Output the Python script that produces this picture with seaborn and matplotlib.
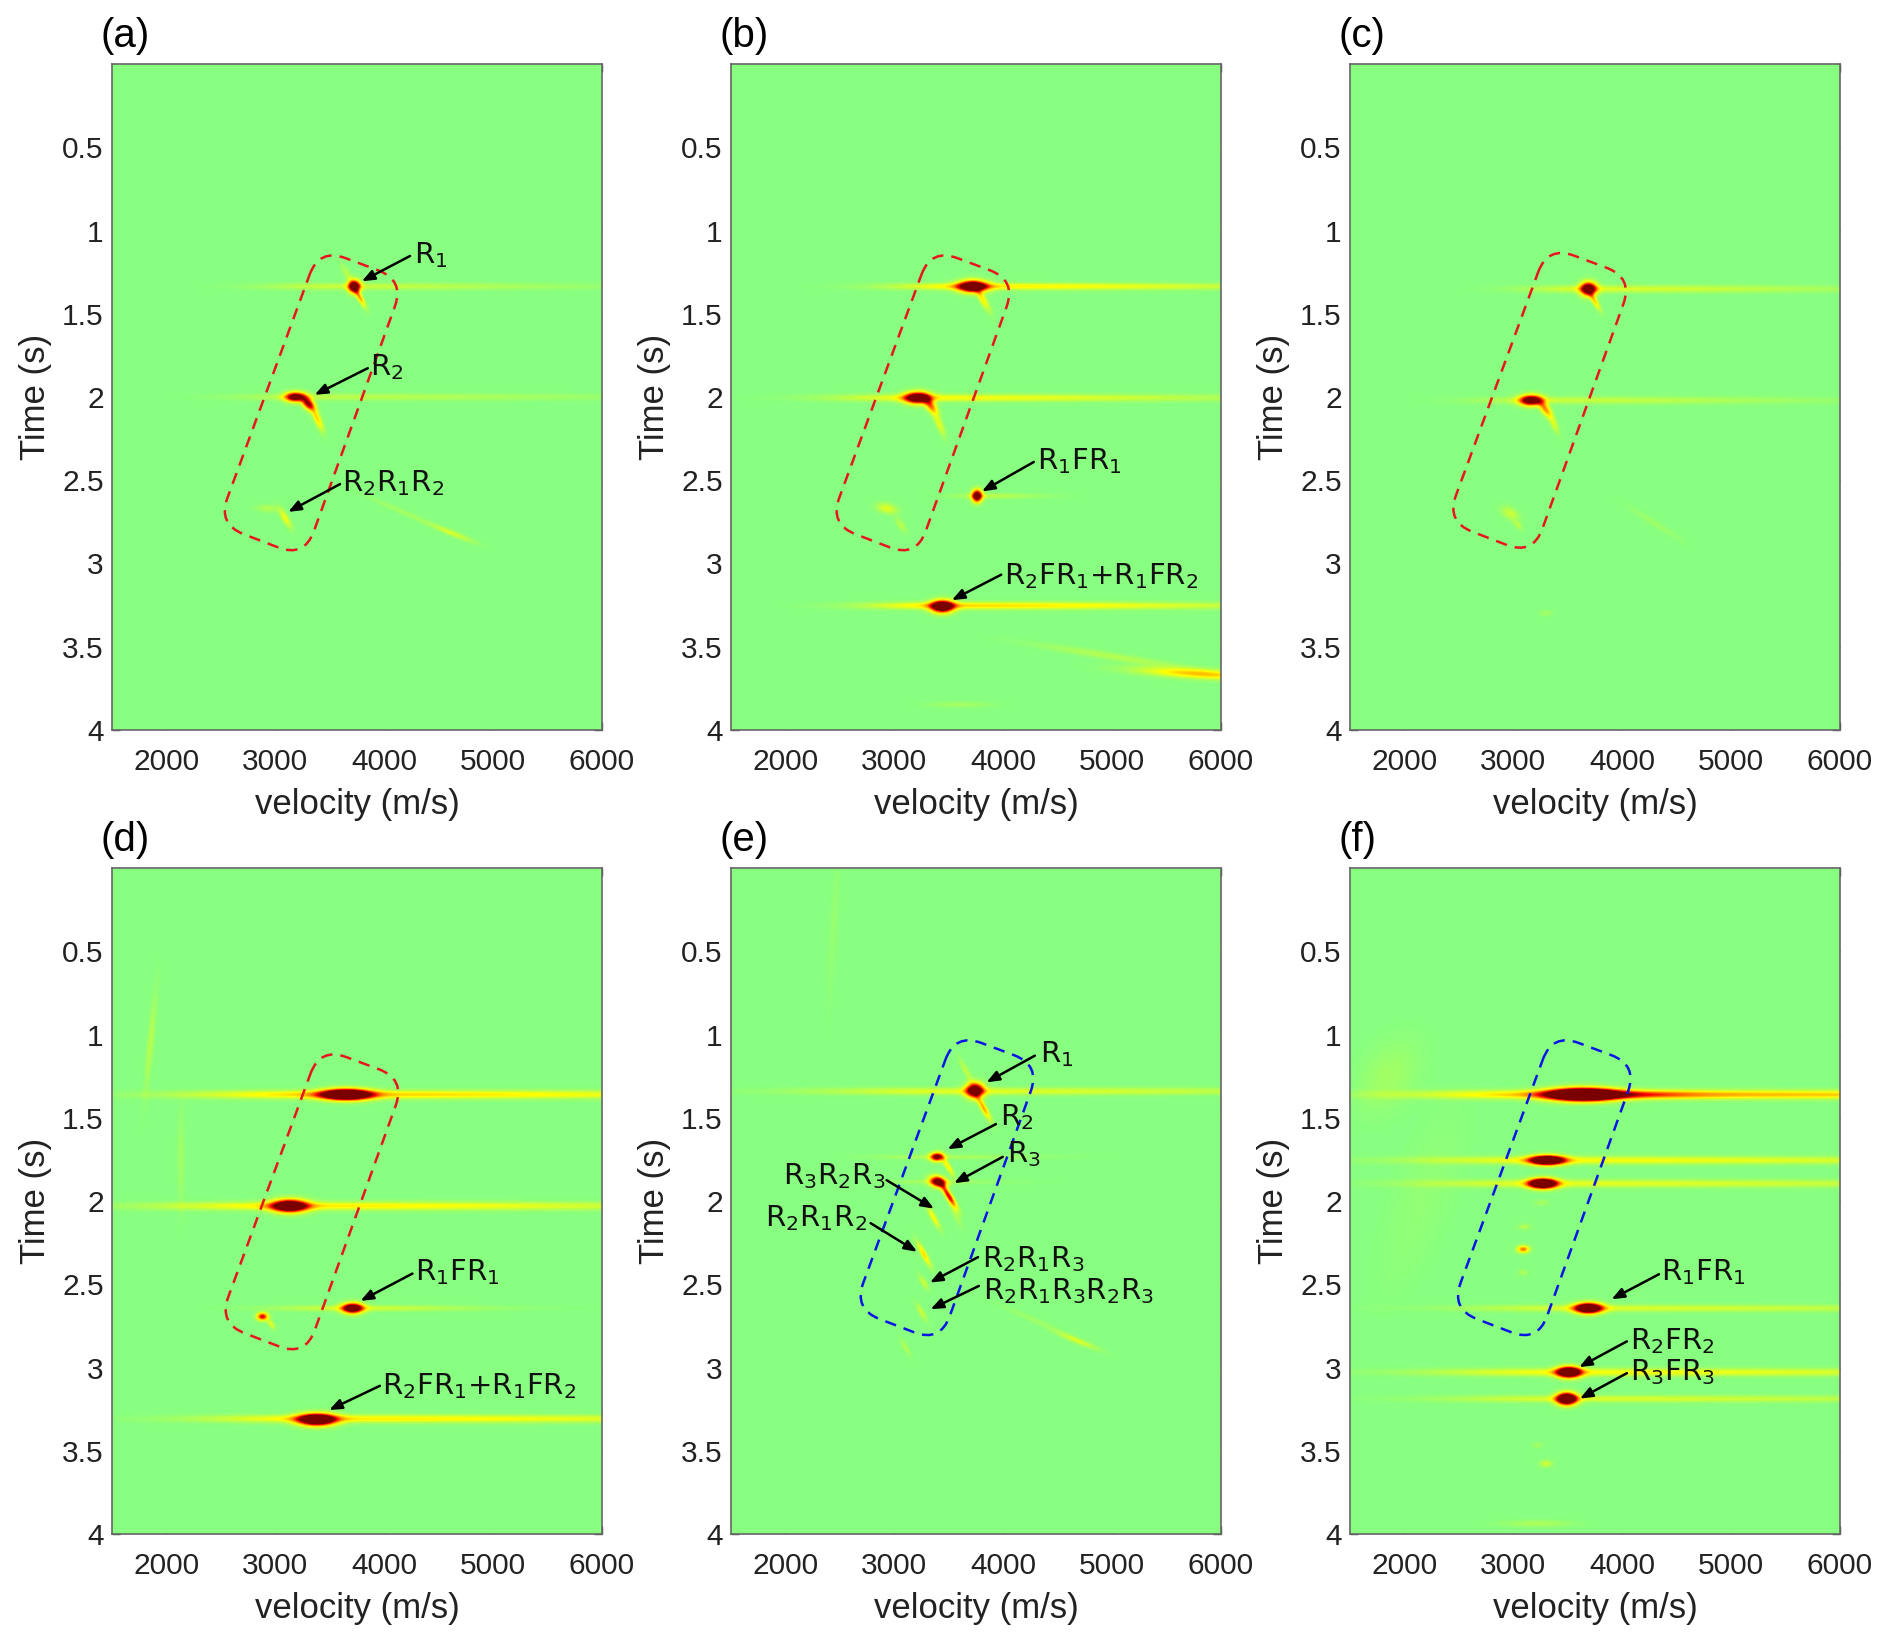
import numpy as np
import matplotlib
matplotlib.use('Agg')
import matplotlib.pyplot as plt
from matplotlib.colors import LinearSegmentedColormap
from matplotlib.path import Path
from matplotlib.patches import PathPatch
import seaborn as sns

sns.set_style('white')
plt.rcParams['font.family'] = ['Liberation Sans', 'DejaVu Sans']
plt.rcParams['mathtext.fontset'] = 'dejavusans'

# ----------------------------
# values
# ----------------------------
panel_names = ['(a)', '(b)', '(c)', '(d)', '(e)', '(f)']
v_ticks = [2000, 3000, 4000, 5000, 6000]
t_ticks = [0.5, 1, 1.5, 2, 2.5, 3, 3.5, 4]
t_tick_labels = ['0.5', '1', '1.5', '2', '2.5', '3', '3.5', '4']

# semblance peaks: v, t, width in v, width in t, slant (m/s per s), amplitude
peaks_a = [(3725, 1.335, 38, .026, 0, 1.3), (3775, 1.40, 20, .04, 800, .5), (3660, 1.26, 22, .04, 800, .14),
           (3180, 2.0, 62, .02, 0, 1.15), (3300, 2.04, 36, .028, 700, .95), (3385, 2.13, 24, .05, 600, .4),
           (3090, 2.73, 24, .04, 800, .28), (2930, 2.67, 70, .015, 900, .12),
           (4630, 2.82, 45, .035, 3400, .2), (4200, 2.70, 40, .07, 3400, .08)]
peaks_b = [(3720, 1.335, 90, .024, 0, 1.45), (3810, 1.41, 25, .05, 800, .35),
           (3210, 2.005, 80, .024, 0, 1.3), (3330, 2.05, 35, .035, 800, .6), (3410, 2.16, 24, .05, 600, .25),
           (3760, 2.595, 32, .025, 0, 1.3), (2930, 2.67, 60, .022, 900, .24), (3060, 2.77, 24, .03, 800, .14),
           (3440, 3.26, 70, .025, 0, 1.5), (5800, 3.665, 300, .025, 9000, .45), (5000, 3.56, 150, .05, 9000, .12),
           (3600, 3.85, 200, .012, 0, .08)]
peaks_c = [(3690, 1.35, 50, .028, 0, 1.3), (3745, 1.42, 20, .04, 800, .4),
           (3160, 2.02, 70, .022, 0, 1.25), (3290, 2.07, 32, .035, 800, .55), (3370, 2.16, 22, .04, 600, .22),
           (2970, 2.70, 50, .028, 900, .18), (3040, 2.77, 22, .02, 800, .14), (4300, 2.76, 40, .07, 2300, .06),
           (3300, 3.30, 40, .012, 0, .08)]
peaks_d = [(3650, 1.36, 150, .022, 0, 1.9), (3130, 2.03, 110, .026, 0, 1.5), (3710, 2.645, 65, .021, 0, 1.4),
           (2880, 2.695, 35, .016, 0, .85), (2960, 2.74, 20, .02, 800, .24), (3380, 3.315, 115, .024, 0, 1.7),
           (1850, 1.05, 20, .2, -150, .13), (2130, 1.75, 22, .2, 0, .07)]
peaks_e = [(3740, 1.335, 55, .03, 0, 1.35), (3820, 1.44, 22, .05, 800, .5), (3660, 1.22, 20, .05, 800, .16),
           (3390, 1.735, 42, .018, 0, 1.05), (3490, 1.79, 20, .04, 900, .35),
           (3400, 1.885, 50, .022, 500, 1.2), (3500, 1.97, 22, .05, 900, .85), (3560, 2.08, 18, .05, 700, .12),
           (3360, 2.10, 20, .045, 800, .32), (3270, 2.32, 20, .05, 800, .4),
           (3270, 2.49, 20, .03, 800, .18), (3250, 2.67, 20, .035, 800, .18), (3100, 2.88, 18, .035, 800, .12),
           (4680, 2.84, 45, .035, 3400, .22), (4300, 2.72, 40, .06, 3400, .07), (2440, 0.35, 25, .3, -100, .04)]
peaks_f = [(3640, 1.36, 210, .025, 0, 2.2), (3310, 1.755, 105, .019, 0, 1.8), (3270, 1.895, 85, .02, 0, 1.9),
           (3090, 2.29, 38, .015, 0, .6), (3100, 2.155, 40, .012, 0, .12), (3260, 2.01, 40, .012, 0, .09),
           (3090, 2.43, 30, .012, 0, .1), (3690, 2.645, 85, .021, 0, 1.7), (3510, 3.03, 75, .022, 0, 1.7),
           (3490, 3.19, 62, .024, 0, 1.8), (3300, 3.58, 38, .014, 0, .2), (3220, 3.47, 30, .012, 0, .08),
           (3220, 3.94, 220, .014, 0, .1), (1850, 1.25, 170, .14, -500, .07), (2150, 2.0, 170, .35, -500, .03)]

# horizontal streaks: t, v centre, spread left, spread right, width in t, amplitude
streaks_a = [(1.335, 3500, 450, 1500, .014, .17), (2.0, 3300, 480, 1900, .014, .14)]
streaks_b = [(1.335, 3700, 520, 1900, .014, .36), (2.005, 3300, 600, 1900, .015, .3),
             (2.595, 3850, 220, 350, .011, .14), (3.255, 3500, 520, 1900, .015, .4)]
streaks_c = [(1.35, 3700, 420, 1600, .015, .22), (2.02, 3300, 450, 1600, .015, .17)]
streaks_d = [(1.36, 3500, 900, 2700, .017, .42), (2.03, 3200, 900, 2500, .017, .36),
             (2.645, 3700, 500, 800, .012, .2), (3.31, 3500, 800, 2700, .016, .36)]
streaks_e = [(1.34, 3500, 900, 2500, .015, .24), (1.735, 3300, 350, 700, .01, .1), (1.885, 3300, 250, 500, .01, .08)]
streaks_f = [(1.36, 3600, 1000, 4200, .018, .5), (1.36, 4000, 300, 450, .018, .3),
             (1.755, 3400, 900, 3000, .016, .3), (1.895, 3300, 800, 3000, .016, .25),
             (2.645, 3700, 800, 2600, .014, .22), (3.03, 3500, 900, 3000, .016, .3),
             (3.19, 3500, 800, 2600, .014, .22)]

# rounded dashed boxes: corners in (v, t)
box_a = [(3404, 1.107), (4185, 1.298), (3267, 2.964), (2471, 2.764)]
box_b = [(3338, 1.107), (4119, 1.298), (3201, 2.964), (2405, 2.764)]
box_c = [(3317, 1.092), (4098, 1.283), (3180, 2.949), (2384, 2.749)]
box_d = [(3412, 1.077), (4193, 1.268), (3275, 2.934), (2479, 2.734)]
box_e = [(3559, 0.992), (4340, 1.183), (3422, 2.849), (2626, 2.649)]
box_f = [(3360, 0.992), (4141, 1.183), (3223, 2.849), (2427, 2.649)]
box_colors = ['#e8141e', '#e8141e', '#e8141e', '#e8141e', '#0a14e6', '#0a14e6']

# labels: text, text v, text t, arrow tail v, tail t, arrow head v, head t
labels_a = [('R$_1$', 4270, 1.146, 4237, 1.153, 3794, 1.305),
            ('R$_2$', 3871, 1.82, 3849, 1.827, 3361, 1.987),
            ('R$_2$R$_1$R$_2$', 3616, 2.516, 3594, 2.523, 3118, 2.69)]
labels_b = [('R$_1$FR$_1$', 4314, 2.385, 4281, 2.39, 3805, 2.567),
            ('R$_2$FR$_1$+R$_1$FR$_2$', 4004, 3.074, 3982, 3.067, 3528, 3.22)]
labels_c = []
labels_d = [('R$_1$FR$_1$', 4281, 2.43, 4259, 2.436, 3782, 2.60),
            ('R$_2$FR$_1$+R$_1$FR$_2$', 3982, 3.11, 3960, 3.11, 3494, 3.255)]
labels_e = [('R$_1$', 4337, 1.116, 4291, 1.127, 3847, 1.287),
            ('R$_2$', 3969, 1.498, 3933, 1.538, 3489, 1.689),
            ('R$_3$', 4033, 1.72, 3995, 1.735, 3549, 1.893),
            ('R$_3$R$_2$R$_3$', 1975, 1.85, 2929, 1.875, 3364, 2.046),
            ('R$_2$R$_1$R$_2$', 1815, 2.10, 2782, 2.133, 3209, 2.305),
            ('R$_2$R$_1$R$_3$', 3801, 2.35, 3769, 2.337, 3327, 2.49),
            ('R$_2$R$_1$R$_3$R$_2$R$_3$', 3810, 2.54, 3777, 2.51, 3333, 2.65)]
labels_f = [('R$_1$FR$_1$', 4356, 2.43, 4337, 2.44, 3902, 2.59),
            ('R$_2$FR$_2$', 4070, 2.843, 4043, 2.843, 3604, 2.998),
            ('R$_3$FR$_3$', 4070, 3.03, 4043, 3.034, 3611, 3.187)]

all_peaks = [peaks_a, peaks_b, peaks_c, peaks_d, peaks_e, peaks_f]
all_streaks = [streaks_a, streaks_b, streaks_c, streaks_d, streaks_e, streaks_f]
all_boxes = [box_a, box_b, box_c, box_d, box_e, box_f]
all_labels = [labels_a, labels_b, labels_c, labels_d, labels_e, labels_f]

# axes layout in pixels
W, H = 1892, 1644
col_left = [112, 731, 1350]
row_top = [64, 868]
ax_w, ax_h = 490, 666

cmap = LinearSegmentedColormap.from_list(
    'semb', [(0, '#88ff80'), (.32, '#ffff00'), (.58, '#ff8000'), (.78, '#ff0000'), (1, '#7a0000')])

vmin, vmax, tmax = 1500, 6000, 4


def fx(v):
    return (np.asarray(v) - vmin) / (vmax - vmin) * ax_w


def fy(t):
    return np.asarray(t) / tmax * ax_h


def build_field(peaks, streaks):
    v = np.linspace(vmin, vmax, ax_w)
    t = np.linspace(0, tmax, ax_h)
    vv, tt = np.meshgrid(v, t)
    field = np.zeros_like(vv)
    for v0, t0, sv, st, k, amp in peaks:
        dv = vv - v0 - k * (tt - t0)
        field += amp * np.exp(-.5 * (dv / sv) ** 2 - .5 * ((tt - t0) / st) ** 2)
    for t0, vc, sl, sr, st, amp in streaks:
        s = np.where(vv < vc, sl, sr)
        field += amp * np.exp(-.5 * ((vv - vc) / s) ** 2 - .5 * ((tt - t0) / st) ** 2)
    return field


def rounded_path(corners, r=28):
    pts = np.column_stack([fx([c[0] for c in corners]), fy([c[1] for c in corners])])
    verts, codes = [], []
    n = len(pts)
    for i in range(n):
        p, prev, nxt = pts[i], pts[i - 1], pts[(i + 1) % n]
        a = p + (prev - p) / np.linalg.norm(prev - p) * r
        b = p + (nxt - p) / np.linalg.norm(nxt - p) * r
        verts += [a, p, b]
        codes += [Path.LINETO if i else Path.MOVETO, Path.CURVE3, Path.CURVE3]
    verts.append(verts[0])
    codes.append(Path.LINETO)
    return Path(verts, codes)


fig = plt.figure(figsize=(W / 100, H / 100), dpi=100, facecolor='white')

for i in range(6):
    left, top = col_left[i % 3], row_top[i // 3]
    ax = fig.add_axes([left / W, 1 - (top + ax_h) / H, ax_w / W, ax_h / H])
    sns.heatmap(build_field(all_peaks[i], all_streaks[i]), ax=ax, cmap=cmap, vmin=0, vmax=1,
                cbar=False, xticklabels=False, yticklabels=False, rasterized=True)

    ax.add_patch(PathPatch(rounded_path(all_boxes[i]), fill=False, ec=box_colors[i], lw=1.8,
                           ls=(0, (4.6, 3.2))))

    for txt, tv, tt, av, at, hv, ht in all_labels[i]:
        ax.annotate('', xy=(fx(hv), fy(ht)), xytext=(fx(av), fy(at)),
                    arrowprops=dict(arrowstyle='-|>,head_length=0.75,head_width=0.3', color='black',
                                    lw=1.8, shrinkA=0, shrinkB=0))
        ax.text(fx(tv), fy(tt), txt, fontsize=21, family='DejaVu Sans', va='center', ha='left',
                color='#111111')

    ax.set_xticks(fx(v_ticks))
    ax.set_xticklabels([str(v) for v in v_ticks])
    ax.set_yticks(fy(t_ticks))
    ax.set_yticklabels(t_tick_labels, rotation=0)
    ax.tick_params(axis='both', direction='in', length=6, width=1, color='#444444',
                   labelsize=21.5, labelcolor='#222222', top=True, right=True, bottom=True, left=True, pad=6)
    ax.tick_params(axis='x', pad=13)
    for side in ax.spines.values():
        side.set_visible(True)
        side.set_color('#666666')
        side.set_linewidth(1.2)
    ax.set_xlabel('velocity (m/s)', fontsize=25, color='#222222')
    ax.xaxis.set_label_coords(.5, -.087)
    ax.set_ylabel('Time (s)', fontsize=25, color='#222222')
    ax.yaxis.set_label_coords(-.122, .5)
    fig.text((left - 12) / W, 1 - (top - 28) / H, panel_names[i], fontsize=29, color='black',
             ha='left', va='center')

fig.savefig('out.png', dpi=100, facecolor='white')
